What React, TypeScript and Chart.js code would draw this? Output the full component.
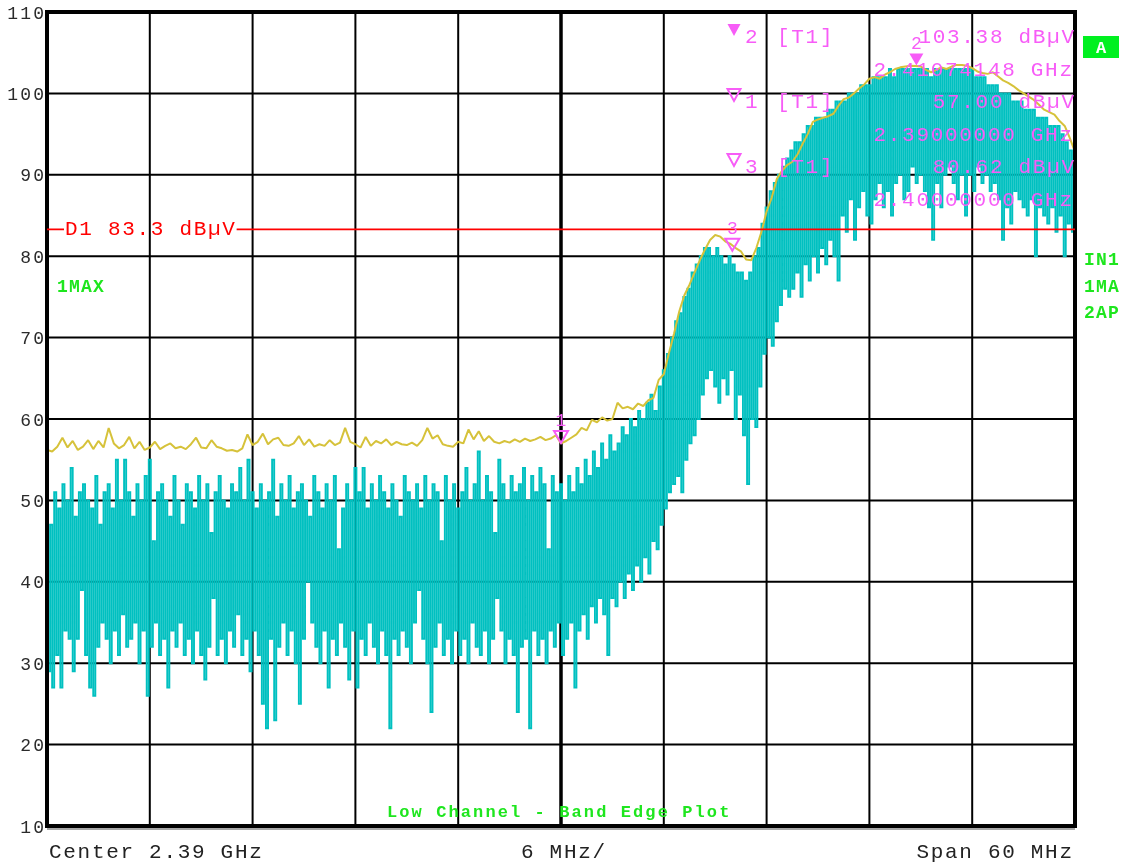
import React, { useEffect, useRef } from "react";
import { Chart, registerables } from "chart.js";

Chart.register(...registerables);

// ---------- data ----------
const START_MHZ = 2360;
const STOP_MHZ = 2420;
const CYAN_STEP_MHZ = 0.12; // 501 sweep points
const YELLOW_STEP_MHZ = 0.3; // 201 points

// trace 2 (cyan, clear/write) levels in dBµV
const clearWriteLevels = [
  54,29, 47,27, 51,31, 49,27, 52,34, 50,33, 54,29, 48,33, 51,39, 52,31,
  50,27, 49,26, 53,32, 47,35, 51,33, 52,30, 49,34, 55,31, 50,36, 55,32,
  51,33, 48,35, 52,30, 50,34, 53,26, 55,32, 45,35, 51,31, 52,33, 50,27,
  48,34, 53,32, 50,35, 47,31, 52,33, 51,30, 49,34, 53,31, 50,28, 52,32,
  46,38, 51,31, 53,33, 50,30, 49,34, 52,32, 51,36, 54,31, 50,33, 55,29,
  51,34, 49,31, 52,25, 50,22, 51,33, 55,23, 48,32, 52,35, 50,31, 53,34,
  49,30, 51,25, 52,33, 50,40, 48,35, 53,32, 51,30, 49,34, 52,27, 50,33,
  53,31, 44,35, 49,32, 52,28, 50,34, 54,27, 51,33, 54,31, 49,35, 52,32,
  50,30, 53,34, 51,31, 49,22, 52,33, 50,31, 48,34, 53,32, 51,30, 50,35,
  52,39, 49,33, 53,30, 50,24, 52,32, 51,35, 45,31, 53,33, 50,30, 52,34,
  49,31, 51,33, 54,30, 50,35, 52,32, 56,31, 50,34, 53,30, 51,33, 46,38,
  55,34, 52,30, 50,33, 53,31, 51,24, 52,32, 54,33, 50,22, 53,34, 51,31,
  54,33, 52,30, 44,34, 53,32, 51,35,
  52,31, 50,33, 53,35, 51,27, 54,34, 52,36, 55,33, 53,37, 56,35, 54,38,
  57,36, 55,31, 58,38, 56,37, 57,40, 59,38, 58,41, 60,39, 59,42, 61,40,
  60,43, 62,41, 63,45, 61,44, 64,47,
  66,49, 68,51, 70,52, 72,53, 73,51, 75,55, 76,57, 78,58, 79,60, 80,63, 81,65,
  81,66, 80,64, 81,62, 80,65, 79,63, 80,66, 79,60, 78,63, 78,58, 77,52, 78,60, 80,59, 81,64,
  84,68, 86,70, 88,69, 89,72, 90,74, 91,76, 92,75, 93,76, 94,78, 94,75,
  95,79, 96,77, 96,80, 97,78, 97,81, 97,79, 98,82, 98,80, 99,77,
  99,85, 99,83, 100,87, 100,82, 100,86, 101,88, 101,85, 101,84, 102,87, 102,89,
  102,86, 102,88, 103,85, 102,89, 103,90, 103,87, 103,88, 103,91, 103,89, 103,90,
  103,88, 103,86, 102,82, 103,89, 103,86, 103,90, 103,91, 103,89, 103,87, 103,90,
  103,85, 103,90, 103,88, 102,91, 102,89, 102,90, 101,88, 101,89, 101,87, 100,82,
  100,86, 100,84, 99,88, 99,87, 99,86, 98,85, 98,87, 98,80, 97,86, 97,85,
  97,84, 96,86, 96,83, 96,85, 95,80, 94,84, 93,83,
  92,
];

// trace 1 (yellow, max hold) levels in dBµV
const maxHoldLevels = [
  56.2, 56.0, 56.6, 57.7, 56.5, 57.3, 56.2, 56.6, 57.4, 56.3,
  57.3, 56.5, 58.9, 57.0, 56.4, 56.8, 57.8, 56.4, 57.2, 56.2,
  56.5, 57.2, 56.3, 56.7, 57.0, 56.4, 56.6, 56.3, 56.9, 57.7,
  56.5, 56.4, 57.4, 56.6, 56.4, 56.1, 56.2, 56.0, 56.4, 58.1,
  56.8, 57.2, 58.2, 56.9, 57.5, 57.7, 56.8, 56.7, 57.0, 57.9,
  56.8, 57.5, 56.6, 56.9, 56.7, 57.4, 56.8, 57.1, 58.9, 57.2,
  56.9, 56.5, 57.8, 56.7, 57.3, 57.0, 57.5, 56.8, 57.2, 56.9,
  56.8, 57.1, 56.7, 57.4, 58.9, 57.6, 58.0, 56.9, 56.7, 56.6,
  57.2, 57.0, 58.7, 57.5, 58.5, 57.3, 57.9, 57.2, 57.0, 57.3,
  57.1, 57.5, 57.2, 57.6, 57.3, 57.5, 57.8, 57.4, 57.6, 58.0,
  57.0, 57.3, 57.7, 58.1, 58.9, 58.6, 59.9, 59.6, 60.2, 59.8,
  60.0, 62.0, 61.3, 61.5, 61.2, 61.9, 61.6, 62.3, 62.6, 64.8,
  65.5, 68.1, 70.5, 73.2, 75.2, 76.5, 78.0, 79.5, 80.8, 82.0,
  82.6, 82.4, 81.8, 81.5, 81.0, 80.6, 79.6, 79.5, 81.0, 83.0,
  85.5, 87.2, 89.5, 90.5, 91.2, 91.6, 92.5, 93.8, 95.0, 96.5,
  96.8, 97.0, 97.2, 97.5, 98.5, 99.3, 99.5, 100.0, 100.6, 101.1,
  101.8, 102.0, 101.8, 102.3, 102.6, 103.0, 103.2, 103.3, 103.4, 103.38,
  103.3, 102.9, 102.6, 102.9, 103.2, 103.0, 103.3, 103.5, 103.5, 103.4,
  103.1, 102.7, 102.5, 102.4, 102.6, 102.1, 101.6, 101.3, 100.9, 100.4,
  100.0, 99.6, 99.2, 98.6, 98.0, 97.7, 97.4, 96.6, 96.0, 94.5,
  92.8,
];

const yTickValues = [10, 20, 30, 40, 50, 60, 70, 80, 90, 100, 110];
const xGridMHz = [2360, 2366, 2372, 2378, 2384, 2390, 2396, 2402, 2408, 2414, 2420];
const CENTER_MHZ = 2390;

const markerIds = ["2", "1", "3"];
const markerFreqMHz = [2410.74148, 2390.0, 2400.0];
const markerLevels = [103.38, 57.0, 80.62];
const markerFilled = [true, false, false];

const displayLineLevel = 83.3;
const displayLineName = "D1";
const unit = "dBµV";

const bottomLeft = "Center 2.39 GHz";
const bottomMid = "6 MHz/";
const bottomRight = "Span 60 MHz";
const titleText = "Low Channel - Band Edge Plot";
const traceLabel = "1MAX";
const sideLabels = ["IN1", "1MA", "2AP"];
const screenLabel = "A";

// ---------- style ----------
const MONO = "'Liberation Mono', 'DejaVu Sans Mono', monospace";
const MAGENTA = "#f75cf7";
const GREEN = "#1ee61e";
const CYAN = "#00c0c0";
const YELLOW = "#d6c23a";

function drawText(
  ctx: CanvasRenderingContext2D,
  s: string,
  x: number,
  y: number,
  font: string,
  color: string,
  align: CanvasTextAlign = "left",
  spacing = 0
) {
  ctx.save();
  ctx.font = font;
  ctx.fillStyle = color;
  ctx.textAlign = align;
  ctx.textBaseline = "alphabetic";
  (ctx as any).letterSpacing = spacing + "px";
  const dx = align === "right" ? spacing : 0;
  ctx.fillText(s, x + dx, y);
  ctx.restore();
}

function textWidth(ctx: CanvasRenderingContext2D, s: string, font: string, spacing: number) {
  ctx.save();
  ctx.font = font;
  (ctx as any).letterSpacing = spacing + "px";
  const w = ctx.measureText(s).width;
  ctx.restore();
  return w;
}

function triangle(
  ctx: CanvasRenderingContext2D,
  cx: number,
  top: number,
  w: number,
  h: number,
  filled: boolean,
  color: string
) {
  ctx.save();
  ctx.beginPath();
  ctx.moveTo(cx - w / 2, top);
  ctx.lineTo(cx + w / 2, top);
  ctx.lineTo(cx, top + h);
  ctx.closePath();
  if (filled) {
    ctx.fillStyle = color;
    ctx.fill();
  } else {
    ctx.strokeStyle = color;
    ctx.lineWidth = 2;
    ctx.stroke();
  }
  ctx.restore();
}

const overlay = {
  id: "overlay",
  beforeDatasetsDraw(chart: any) {
    const { ctx, chartArea: a, scales } = chart;
    const x = scales.x;
    const y = scales.y;
    ctx.save();
    ctx.strokeStyle = "#000";
    for (const v of yTickValues) {
      const py = y.getPixelForValue(v);
      ctx.lineWidth = 2;
      ctx.beginPath();
      ctx.moveTo(a.left, py);
      ctx.lineTo(a.right, py);
      ctx.stroke();
    }
    for (const v of xGridMHz) {
      const px = x.getPixelForValue(v);
      ctx.lineWidth = v === CENTER_MHZ ? 3.5 : 2;
      ctx.beginPath();
      ctx.moveTo(px, a.top);
      ctx.lineTo(px, a.bottom);
      ctx.stroke();
    }
    ctx.restore();
  },
  afterDatasetsDraw(chart: any) {
    const { ctx, chartArea: a, scales } = chart;
    const x = scales.x;
    const y = scales.y;
    ctx.save();

    // frame
    ctx.strokeStyle = "#000";
    ctx.lineWidth = 4;
    ctx.strokeRect(a.left, a.top, a.right - a.left, a.bottom - a.top);
    ctx.strokeStyle = "#8a8a8a";
    ctx.lineWidth = 1.5;
    ctx.beginPath();
    ctx.moveTo(a.left, a.bottom + 3);
    ctx.lineTo(a.right, a.bottom + 3);
    ctx.stroke();

    // display line D1
    const big = `21px ${MONO}`;
    const sp = 1.7;
    const dy = y.getPixelForValue(displayLineLevel);
    const dLabel = `${displayLineName} ${displayLineLevel.toFixed(1)} ${unit}`;
    const labX = a.left + 18;
    const labW = textWidth(ctx, dLabel, big, sp);
    ctx.strokeStyle = "#ff0000";
    ctx.lineWidth = 1.6;
    ctx.beginPath();
    ctx.moveTo(a.left, dy);
    ctx.lineTo(labX - 1, dy);
    ctx.moveTo(labX + labW, dy);
    ctx.lineTo(a.right, dy);
    ctx.stroke();
    drawText(ctx, dLabel, labX, dy + 5.5, big, "#ff0000", "left", sp);

    // markers on the traces
    for (let k = 0; k < markerIds.length; k++) {
      const px = x.getPixelForValue(markerFreqMHz[k]);
      const py = y.getPixelForValue(markerLevels[k]);
      triangle(ctx, px, py - 12.5, 14, 12, markerFilled[k], MAGENTA);
      drawText(ctx, markerIds[k], px, py - 17, `18px ${MONO}`, MAGENTA, "center", 0);
    }

    // marker table
    const rowBase = [43, 108, 173];
    for (let k = 0; k < markerIds.length; k++) {
      const b = rowBase[k];
      triangle(ctx, 734, b - 19, 13, 12, markerFilled[k], MAGENTA);
      drawText(ctx, markerIds[k], 745, b, big, MAGENTA, "left", sp);
      drawText(ctx, "[T1]", 777, b, big, MAGENTA, "left", sp);
      drawText(ctx, `${markerLevels[k].toFixed(2)} ${unit}`, a.right - 1, b, big, MAGENTA, "right", sp);
      drawText(
        ctx,
        `${(markerFreqMHz[k] / 1000).toFixed(8)} GHz`,
        a.right - 3,
        b + 32.5,
        big,
        MAGENTA,
        "right",
        sp
      );
    }
    ctx.restore();
  },
  afterDraw(chart: any) {
    const { ctx, chartArea: a, scales } = chart;
    const y = scales.y;
    const big = `21px ${MONO}`;
    const sp = 1.7;

    // y tick labels
    for (const v of yTickValues) {
      const py = y.getPixelForValue(v);
      drawText(ctx, String(v), a.left - 3, py + 6.5, `18px ${MONO}`, "#2a2a2a", "right", 2.2);
    }

    // bottom labels
    drawText(ctx, bottomLeft, 49, 858, big, "#222", "left", sp);
    drawText(ctx, bottomMid, 521, 858, big, "#222", "left", sp);
    drawText(ctx, bottomRight, a.right - 3, 858, big, "#222", "right", sp);

    // green labels
    drawText(ctx, titleText, 387, 817, `bold 17px ${MONO}`, GREEN, "left", 2.1);
    drawText(ctx, traceLabel, 57, 292, `bold 18px ${MONO}`, GREEN, "left", 1.2);
    const sideBase = [264.5, 292, 317.5];
    sideLabels.forEach((s, i) => drawText(ctx, s, 1084, sideBase[i], `bold 18px ${MONO}`, GREEN, "left", 1.2));

    // screen "A" box
    ctx.save();
    ctx.fillStyle = "#00f020";
    ctx.fillRect(1083, 36, 36, 22);
    ctx.restore();
    drawText(ctx, screenLabel, 1101, 53, `bold 17px ${MONO}`, "#ffffff", "center", 0);
  },
};

export default function App() {
  const ref = useRef<HTMLCanvasElement>(null);

  useEffect(() => {
    const canvas = ref.current;
    if (!canvas) return;
    const cyanData = clearWriteLevels.map((v, i) => ({ x: START_MHZ + i * CYAN_STEP_MHZ, y: v }));
    const yellowData = maxHoldLevels.map((v, i) => ({ x: START_MHZ + i * YELLOW_STEP_MHZ, y: v }));
    const chart = new Chart(canvas, {
      type: "line",
      data: {
        datasets: [
          {
            label: "1MAX",
            data: yellowData,
            borderColor: YELLOW,
            borderWidth: 2,
            pointRadius: 0,
            tension: 0,
            order: 0,
            borderJoinStyle: "bevel",
          } as any,
          {
            label: "2AP",
            data: cyanData,
            borderColor: CYAN,
            borderWidth: 1.9,
            pointRadius: 0,
            stepped: "middle",
            order: 1,
            borderJoinStyle: "miter",
          } as any,
        ],
      },
      options: {
        animation: false,
        responsive: false,
        maintainAspectRatio: false,
        devicePixelRatio: 1,
        events: [],
        layout: { padding: { left: 47, top: 12, right: 52, bottom: 40 } },
        scales: {
          x: { type: "linear", min: START_MHZ, max: STOP_MHZ, display: false },
          y: { type: "linear", min: 10, max: 110, display: false },
        },
        plugins: { legend: { display: false }, tooltip: { enabled: false } },
      },
      plugins: [overlay],
    });
    return () => chart.destroy();
  }, []);

  return (
    <div style={{ position: "absolute", left: 0, top: 0, width: 1127, height: 866, background: "#fff" }}>
      <canvas ref={ref} width={1127} height={866} style={{ display: "block", width: 1127, height: 866 }} />
    </div>
  );
}
